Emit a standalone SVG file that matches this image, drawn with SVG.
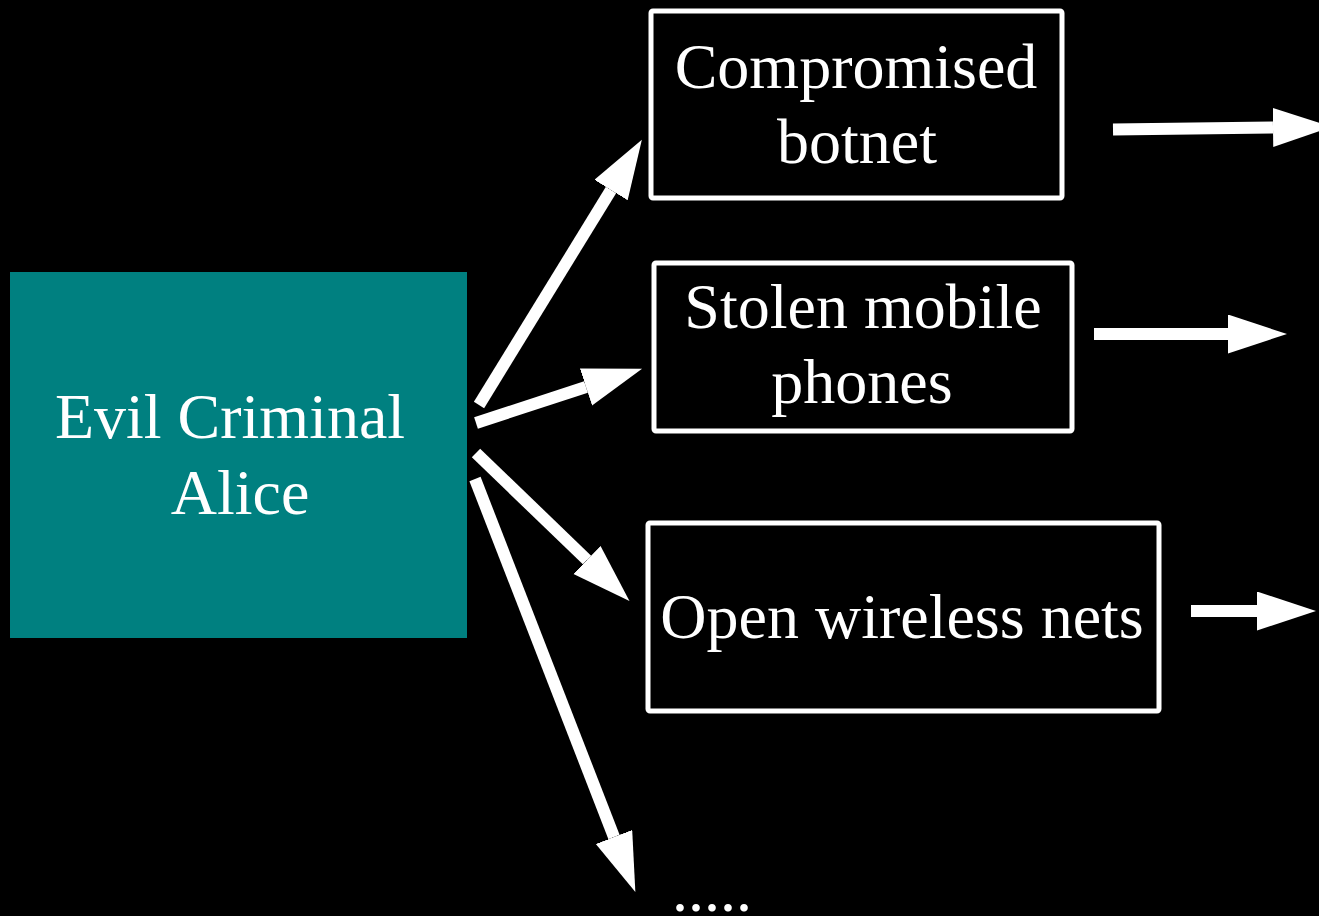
<svg xmlns="http://www.w3.org/2000/svg" width="1319" height="916" viewBox="0 0 1319 916">
<style>
.bg{fill:#000}
.box{fill:#000;stroke:#fff;stroke-width:5}
.lbl{fill:#fff;font-family:"Liberation Serif","Times New Roman",serif;font-size:64px;text-anchor:middle}
.conn{stroke:#fff;stroke-width:12;fill:none;marker-end:url(#ah)}
</style>
<defs>
<marker id="ah" markerUnits="userSpaceOnUse" markerWidth="60" markerHeight="40" refX="0" refY="19.5" orient="auto" viewBox="0 0 60 40">
<path d="M0,0 L59,19.5 L0,39 z" fill="#fff"/>
</marker>
</defs>
<rect class="bg" x="0" y="0" width="1319" height="916"/>
<g id="alice">
<rect x="10" y="272" width="457" height="366" fill="#008080"/>
<text class="lbl" x="230" y="438">Evil Criminal</text>
<text class="lbl" x="240" y="514">Alice</text>
</g>
<g id="botnet">
<rect class="box" x="651" y="11" width="411" height="187" rx="2"/>
<text class="lbl" x="856" y="88">Compromised</text>
<text class="lbl" x="857" y="163">botnet</text>
</g>
<g id="phones">
<rect class="box" x="654" y="263" width="418" height="168" rx="2"/>
<text class="lbl" x="863" y="328">Stolen mobile</text>
<text class="lbl" x="862" y="403">phones</text>
</g>
<g id="wireless">
<rect class="box" x="648" y="523" width="511" height="188" rx="2"/>
<text class="lbl" x="902" y="638">Open wireless nets</text>
</g>
<g id="more">
<text class="lbl" x="712" y="911">.....</text>
</g>
<g id="connectors">
<line class="conn" x1="479" y1="405" x2="611" y2="190"/>
<line class="conn" x1="476" y1="423" x2="586" y2="387"/>
<line class="conn" x1="476" y1="453" x2="587" y2="560"/>
<line class="conn" x1="475" y1="479" x2="614" y2="837"/>
<line class="conn" x1="1113" y1="129.5" x2="1273" y2="127.5"/>
<line class="conn" x1="1094" y1="334" x2="1228" y2="334"/>
<line class="conn" x1="1191" y1="611" x2="1257" y2="611"/>
</g>
</svg>
